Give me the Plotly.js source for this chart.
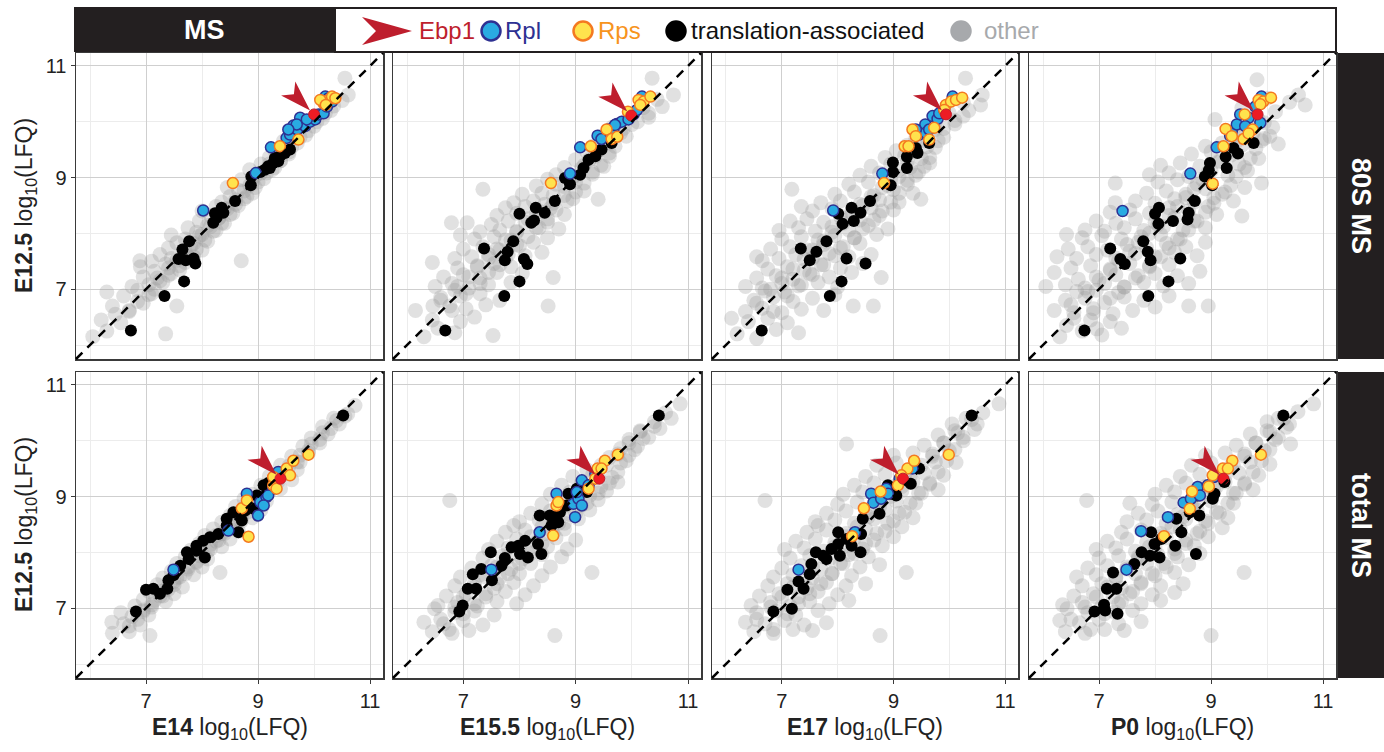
<!DOCTYPE html>
<html><head><meta charset="utf-8">
<script src="https://cdn.plot.ly/plotly-3.0.1.min.js"></script>
<style>html,body{margin:0;padding:0;background:#fff;}#chart{width:1384px;height:752px;}</style>
</head><body><div id="chart"></div>
<script>
// ---------- DATA (log10 LFQ) ----------
const panelTitles = ["E14", "E15.5", "E17", "P0"];
const rowLabels = ["80S MS", "total MS"];
const yTitle = "E12.5";
const tickValues = [7, 9, 11];
const legendLabels = ["Ebp1", "Rpl", "Rps", "translation-associated", "other"];

// "other" proteins per panel (row 1 = 80S MS, row 2 = total MS): outer cloud
const p1OtherX = [6.05,6.30,6.55,6.20,6.45,7.35, 6.40,6.70,6.95,6.60,7.10,6.85,7.55,6.30, 6.75,7.05,7.25,6.95,7.40,7.15,7.60,6.90,7.35,7.70,7.10,8.70,6.89, 7.45,7.85,7.25,7.65,8.00,7.40,7.80,7.55,8.10,7.70,7.95,7.45, 7.90,8.25,7.75,8.10,8.40,7.95,8.30,8.15,8.55,8.00,8.40,8.25, 8.60,8.35,8.75,8.50,8.90,8.65,8.45,8.85,9.00,8.70, 8.95,9.15,8.85,9.30,9.05,9.40,9.20,9.55,9.30, 9.60,9.45,9.75,9.90,9.70,10.05,10.20,10.35,10.50, 10.61,10.55];
const p1OtherY = [6.15,6.25,6.40,6.45,6.55,6.20, 6.70,6.62,6.75,6.88,6.92,6.98,6.70,6.95, 7.05,7.08,7.15,7.22,7.25,7.32,7.35,7.40,7.45,7.48,7.50,7.51,7.51, 7.55,7.58,7.62,7.66,7.70,7.74,7.78,7.83,7.86,7.90,7.95,7.97, 8.02,8.05,8.10,8.14,8.18,8.22,8.27,8.32,8.36,8.40,8.44,8.48, 8.52,8.56,8.62,8.66,8.72,8.77,8.82,8.86,8.92,8.96, 9.03,9.08,9.14,9.18,9.24,9.30,9.36,9.42,9.48, 9.55,9.65,9.72,9.84,9.90,10.00,10.15,10.28,10.38, 10.48,10.78];

const p2OtherX = [6.30,6.55,6.85,7.53,6.45,6.95,7.20, 6.15,6.46,6.76,7.05,7.40,6.60,6.95,7.30,7.65,8.51,6.85, 6.50,6.80,7.10,7.45,7.85,6.65,7.00,7.30,7.60,8.05,6.90,7.25,7.55,7.85,8.60,6.45, 6.85,7.15,7.45,7.75,8.10,8.40,7.00,7.35,7.65,7.95,8.25,7.20,7.55,7.85,8.50,6.95, 7.30,7.65,7.95,8.30,8.70,6.79,7.07,7.50,7.80,8.15,8.50,7.60,7.95,8.35,8.80,7.75,8.10,8.55, 7.90,8.25,8.60,8.95,9.40,8.05,8.40,8.80,9.15,7.35,8.30,8.65,9.00,8.50, 8.65,8.95,9.30,8.80,9.15,9.50,9.00,9.35,9.20,9.60, 9.30,9.60,9.45,9.80,9.65,10.00,9.95,10.30,10.20,10.54,10.45, 10.74,10.36];
const p2OtherY = [6.15,6.30,6.22,6.17,6.45,6.42,6.50, 6.62,6.70,6.70,6.65,6.72,6.85,6.88,6.92,6.80,6.70,6.98, 7.05,7.10,7.02,7.08,7.12,7.22,7.26,7.20,7.30,7.28,7.38,7.42,7.46,7.40,7.21,7.48, 7.55,7.58,7.62,7.55,7.60,7.66,7.72,7.76,7.70,7.80,7.84,7.90,7.94,7.88,7.92,7.97, 8.03,8.06,8.02,8.10,8.08,8.19,8.19,8.16,8.22,8.26,8.20,8.32,8.36,8.40,8.34,8.46,8.48,8.45, 8.55,8.58,8.54,8.62,8.61,8.70,8.72,8.68,8.76,8.79,8.85,8.88,8.92,8.97, 9.05,9.02,9.10,9.18,9.22,9.20,9.32,9.38,9.46,9.44, 9.56,9.62,9.74,9.80,9.90,9.95,10.10,10.08,10.25,10.27,10.40, 10.48,10.78];

const p3OtherX = [6.20,6.55,6.90,7.30,6.40,6.75,7.10,6.10, 6.35,6.65,7.00,7.35,7.75,8.28,8.64,6.50,6.85,7.20,7.55,7.95,6.70,7.05, 6.35,6.65,7.00,7.30,7.65,8.00,8.78,6.55,6.90,7.20,7.50,7.85,8.25,6.75,7.10,7.40,7.70,8.05,8.45,6.65, 6.55,6.95,7.25,7.55,7.85,8.20,8.60,6.80,7.15,7.45,7.75,8.05,8.40,7.00,7.35,7.65,7.95,8.30,8.70, 6.95,7.30,7.60,7.90,8.20,8.55,8.90,7.15,7.45,7.75,8.05,8.40,8.75,7.55,7.90,8.25,8.60,9.00,7.35, 7.70,8.05,8.40,8.75,9.10,9.49,7.95,8.30,8.65,9.00,9.35,7.18,8.20,8.55,8.90,9.25, 8.40,8.75,9.10,9.45,8.60,8.95,9.30,9.65,8.85,9.20,9.50,9.05, 9.25,9.60,9.40,9.80,9.55,9.90,9.75,10.10,10.00,10.35,10.25,10.56, 10.59,10.29];
const p3OtherY = [6.20,6.12,6.28,6.22,6.42,6.48,6.40,6.48, 6.60,6.66,6.58,6.64,6.62,6.70,6.70,6.80,6.86,6.78,6.84,6.90,6.97,6.95, 7.05,7.02,7.10,7.06,7.12,7.04,7.21,7.20,7.24,7.18,7.28,7.22,7.30,7.36,7.40,7.34,7.44,7.38,7.46,7.51, 7.58,7.55,7.62,7.56,7.64,7.58,7.62,7.72,7.76,7.70,7.80,7.74,7.82,7.90,7.94,7.88,7.96,7.92,7.98, 8.05,8.10,8.04,8.12,8.06,8.14,8.08,8.22,8.26,8.20,8.30,8.24,8.32,8.40,8.44,8.38,8.46,8.42,8.48, 8.55,8.58,8.52,8.60,8.56,8.61,8.70,8.74,8.68,8.78,8.72,8.79,8.88,8.92,8.86,8.95, 9.04,9.08,9.02,9.10,9.20,9.24,9.18,9.26,9.36,9.40,9.34,9.48, 9.58,9.55,9.70,9.66,9.84,9.88,10.00,10.02,10.15,10.20,10.35,10.30, 10.48,10.78];

const p4OtherX = [6.30,6.70,7.05,7.40,6.42,6.96,6.55,6.85,7.20, 6.20,6.55,6.90,7.25,7.60,8.00,8.60,8.95,6.40,6.75,7.10,7.45,7.80,8.25,6.60,6.95,7.35, 6.05,6.40,6.75,7.10,7.45,7.80,8.15,8.60,6.20,6.63,6.95,7.30,7.65,8.00,8.40,8.80,6.50,6.85,7.20,7.55,7.90,8.25, 6.25,6.60,6.95,7.30,7.65,8.00,8.35,8.75,6.45,6.80,7.15,7.50,7.85,8.20,8.55,8.90,6.42,6.70,7.05,7.40,7.75,8.10,8.45, 6.75,7.10,7.45,7.80,8.15,8.50,8.90,6.95,7.30,7.65,8.00,8.35,8.70,9.55,9.10,7.20,7.55,7.90,8.25,8.60,8.95, 7.29,7.65,8.00,8.35,8.70,9.05,9.40,7.85,8.20,8.55,8.90,9.25,9.60,7.29,9.90,8.05,8.40,8.75, 7.90,8.25,8.60,8.95,9.30,9.65,8.10,8.45,8.80,9.15,9.50,9.85,8.65,9.00,9.35, 8.90,9.20,9.55,9.90,10.20,9.40,9.75,10.05,9.07,9.60,9.95,9.80,10.15,9.55,10.40,10.00, 10.56,10.68,9.82];
const p4OtherY = [6.15,6.25,6.18,6.30,6.35,6.29,6.48,6.45,6.42, 6.62,6.58,6.65,6.56,6.62,6.68,6.70,6.70,6.80,6.84,6.76,6.86,6.80,6.88,6.96,6.98,6.94, 7.05,7.08,7.02,7.10,7.04,7.12,7.06,7.10,7.30,7.18,7.22,7.26,7.20,7.28,7.24,7.32,7.38,7.42,7.36,7.46,7.40,7.44, 7.58,7.55,7.62,7.56,7.64,7.58,7.66,7.60,7.72,7.76,7.70,7.80,7.74,7.82,7.76,7.84,7.98,7.92,7.96,7.90,7.94,7.98,7.90, 8.06,8.04,8.10,8.05,8.12,8.06,8.10,8.22,8.18,8.26,8.20,8.28,8.22,8.31,8.34,8.38,8.42,8.36,8.46,8.40,8.48, 8.55,8.58,8.54,8.62,8.56,8.64,8.58,8.72,8.76,8.70,8.80,8.74,8.82,8.90,8.90,8.92,8.96,8.88, 9.05,9.08,9.02,9.10,9.04,9.12,9.22,9.26,9.20,9.30,9.24,9.34,9.42,9.46,9.40, 9.56,9.62,9.58,9.66,9.60,9.76,9.80,9.74,10.04,9.92,9.98,10.12,10.18,10.25,10.35,10.42, 10.48,10.30,10.75];

const p5OtherX = [6.40,6.70,6.39,6.60,6.90,7.07,6.75,7.05,6.55,6.95, 6.80,7.10,7.35,6.95,7.25,7.50,7.05,7.40,7.65,7.20,7.50, 7.30,7.60,7.85,8.32,7.45,7.75,8.00,7.55,7.90,8.10,7.70,8.00, 7.80,8.15,8.35,7.95,8.25,8.50,8.05,8.40,8.65,8.20,8.55, 8.35,8.70,8.90,8.50,8.80,9.05,8.60,8.95,9.15,8.75, 8.90,9.20,9.40,9.05,9.35,9.60,9.20,9.50,9.70, 9.40,9.75,9.60,9.90,9.80,10.10,9.95,10.25,10.15,10.45,10.35,10.60, 10.73];
const p5OtherY = [6.55,6.58,6.75,6.72,6.70,6.51,6.85,6.88,6.92,6.97, 7.04,7.06,7.12,7.16,7.22,7.26,7.30,7.34,7.38,7.42,7.48, 7.54,7.56,7.60,7.64,7.66,7.70,7.74,7.80,7.84,7.88,7.92,7.98, 8.04,8.06,8.10,8.16,8.20,8.24,8.30,8.34,8.38,8.42,8.48, 8.54,8.56,8.62,8.66,8.72,8.76,8.82,8.86,8.92,8.96, 9.04,9.08,9.14,9.20,9.26,9.30,9.36,9.42,9.48, 9.56,9.62,9.72,9.78,9.90,9.96,10.05,10.12,10.25,10.30,10.40,10.48, 10.63];

const p6OtherX = [6.45,6.80,7.10,8.63,6.30,6.65,7.00,7.35,6.49,6.85,7.20,7.55, 6.55,6.90,7.25,7.60,7.95,6.70,7.05,7.40,7.75,8.10,6.85,7.20,7.55,7.90,8.25, 6.95,7.30,7.65,8.00,8.40,9.29,7.15,7.50,7.85,8.20,8.55,7.35,7.70,8.05,8.40,8.75, 7.45,7.80,8.15,8.50,8.85,7.60,7.95,8.30,8.65,9.00,7.75,8.10,8.45,8.80,7.90,8.60, 8.00,8.35,8.70,9.05,8.20,8.55,8.90,9.25,6.76,8.40,8.75,9.10,9.40, 8.55,8.90,9.25,9.55,8.75,9.10,9.45,9.75,8.95,9.30,9.65,9.20, 9.45,9.80,9.60,9.95,9.80,10.10,9.95,10.30,10.15,10.50,10.40,10.70, 10.86];
const p6OtherY = [6.58,6.55,6.60,6.51,6.75,6.72,6.78,6.70,6.99,6.92,6.95,6.88, 7.05,7.10,7.04,7.12,7.08,7.22,7.26,7.20,7.30,7.24,7.40,7.44,7.36,7.46,7.40, 7.56,7.60,7.54,7.62,7.58,7.64,7.72,7.76,7.70,7.80,7.74,7.90,7.94,7.88,7.96,7.92, 8.05,8.08,8.02,8.10,8.06,8.20,8.24,8.18,8.26,8.22,8.36,8.40,8.34,8.42,8.48,8.48, 8.55,8.58,8.52,8.60,8.70,8.74,8.68,8.76,8.93,8.86,8.90,8.84,8.94, 9.04,9.08,9.02,9.10,9.20,9.24,9.18,9.26,9.36,9.40,9.34,9.48, 9.56,9.60,9.70,9.74,9.86,9.90,10.02,10.06,10.18,10.22,10.34,10.40, 10.66];

const p7OtherX = [6.50,6.85,7.20,8.76,7.55,6.35,6.70,7.05,7.40,7.80,6.55,6.90,7.25,7.65, 6.45,6.80,7.15,7.50,7.85,8.20,6.60,6.95,7.30,7.65,8.00,6.75,7.10,7.45,7.80,8.15,8.50, 6.85,7.20,7.55,7.90,8.25,9.23,7.00,7.35,7.70,8.05,8.40,8.75,7.15,7.50,7.85,8.20,8.55, 7.05,7.40,7.75,8.10,8.45,8.80,7.25,7.60,7.95,8.30,8.65,9.00,7.45,7.80,8.15,8.50,8.85,7.65,9.15, 7.60,7.95,8.30,8.65,9.00,9.35,7.80,8.15,8.50,8.85,9.20,6.70,8.00,8.35,8.70,9.05,9.40, 8.10,8.45,8.80,9.15,9.50,9.80,8.30,8.65,9.00,9.35,9.65,8.50,8.85,9.20,9.55,9.90, 8.70,9.05,9.40,9.75,10.12,9.00,9.35,9.70,10.00,8.16,9.55,9.90,10.25,9.80,10.15,10.45,10.05,10.40, 10.89,10.60];
const p7OtherY = [6.58,6.55,6.62,6.51,6.60,6.75,6.72,6.78,6.70,6.74,6.92,6.95,6.88,6.96, 7.05,7.10,7.04,7.12,7.08,7.14,7.22,7.26,7.20,7.30,7.24,7.40,7.44,7.36,7.46,7.40,7.44, 7.56,7.60,7.54,7.62,7.58,7.64,7.72,7.76,7.70,7.80,7.74,7.78,7.90,7.94,7.88,7.96,7.92, 8.05,8.08,8.02,8.10,8.06,8.12,8.20,8.24,8.18,8.26,8.22,8.28,8.36,8.40,8.34,8.42,8.38,8.48,8.46, 8.55,8.58,8.52,8.60,8.56,8.62,8.70,8.74,8.68,8.76,8.72,8.93,8.86,8.90,8.84,8.92,8.88, 9.04,9.08,9.02,9.10,9.06,9.12,9.20,9.24,9.18,9.26,9.22,9.36,9.40,9.34,9.42,9.38, 9.56,9.60,9.54,9.62,9.61,9.74,9.78,9.72,9.82,9.94,9.92,9.96,10.00,10.10,10.14,10.20,10.30,10.38, 10.66,10.50];

const p8OtherX = [6.40,6.75,7.10,9.00,7.45,6.30,6.65,7.00,7.35,7.75,6.43,6.80,7.28,7.60, 6.35,6.70,7.05,7.40,7.75,8.10,6.55,6.90,7.25,7.60,7.95,8.35,6.70,7.05,7.40,7.75,8.10,8.50, 6.60,6.95,7.30,7.65,8.00,8.35,9.59,6.80,7.15,7.50,7.85,8.20,8.60,7.00,7.35,7.70,8.05,8.40,8.80, 6.95,7.30,7.65,8.00,8.35,8.70,7.15,7.50,7.85,8.20,8.55,8.95,7.40,7.75,8.10,8.45,8.80,9.20, 7.50,7.85,8.20,8.55,8.90,9.30,7.70,8.05,8.40,8.75,9.10,6.78,7.55,7.95,8.30,8.65,9.00,9.40, 8.00,8.35,8.70,9.05,9.40,9.75,8.20,8.55,8.90,9.25,9.60,8.45,8.80,9.15,9.50,9.85, 8.65,9.00,9.35,9.70,10.05,8.90,9.25,9.60,9.95,10.42,9.45,9.80,10.15,9.70,10.05,10.35,10.00,10.30, 10.83,10.55];
const p8OtherY = [6.58,6.55,6.62,6.51,6.60,6.78,6.74,6.80,6.72,6.76,6.99,6.92,6.93,6.96, 7.06,7.10,7.04,7.12,7.08,7.14,7.22,7.26,7.20,7.30,7.24,7.28,7.40,7.44,7.36,7.46,7.40,7.44, 7.56,7.60,7.54,7.62,7.58,7.64,7.64,7.72,7.76,7.70,7.80,7.74,7.78,7.90,7.94,7.88,7.96,7.92,7.98, 8.05,8.08,8.02,8.10,8.06,8.12,8.20,8.24,8.18,8.26,8.22,8.28,8.36,8.40,8.34,8.42,8.38,8.44, 8.55,8.58,8.52,8.60,8.56,8.62,8.70,8.74,8.68,8.76,8.72,8.93,8.88,8.86,8.90,8.84,8.92,8.88, 9.04,9.08,9.02,9.10,9.06,9.12,9.20,9.24,9.18,9.26,9.22,9.36,9.40,9.34,9.42,9.38, 9.56,9.60,9.54,9.62,9.58,9.74,9.78,9.72,9.82,9.94,9.92,9.96,10.02,10.12,10.16,10.24,10.34,10.40, 10.66,10.52];

// "other" proteins: dense core near the diagonal
const p1CoreX = [6.70,6.85,7.05,7.15,7.30,7.20,7.45,7.40,7.60,7.55,7.75,7.70,7.90,7.85,8.05,8.00,8.20,8.15,8.35,8.30,8.50,8.45,8.65,8.60,8.80,8.75,8.95,8.90,9.10,9.05,9.25,9.20,9.40,9.35,9.55,9.70,9.85,10.00,10.15,10.30];
const p1CoreY = [6.60,6.78,6.90,7.00,7.12,7.20,7.28,7.38,7.42,7.52,7.58,7.68,7.72,7.82,7.88,7.98,8.04,8.12,8.18,8.28,8.34,8.44,8.50,8.60,8.66,8.76,8.82,8.92,8.98,9.08,9.14,9.24,9.30,9.40,9.46,9.62,9.76,9.92,10.06,10.20];
const p2CoreX = [6.80,6.60,7.05,6.90,7.30,7.10,7.45,7.25,7.65,7.45,7.80,7.60,8.00,7.75,8.15,7.95,8.35,8.10,8.50,8.30,8.65,8.45,8.85,8.60,9.00,8.80,9.15,8.95,9.30,9.10,9.45,9.25,9.60,9.40,9.70,9.60,9.90,9.85,10.10,10.30];
const p2CoreY = [6.62,6.80,6.92,7.05,7.10,7.22,7.30,7.40,7.44,7.56,7.62,7.72,7.78,7.88,7.94,8.04,8.10,8.20,8.26,8.36,8.42,8.52,8.58,8.68,8.74,8.84,8.90,9.00,9.06,9.16,9.22,9.32,9.38,9.48,9.56,9.68,9.74,9.88,10.00,10.15];
const p3CoreX = [6.85,6.55,7.10,6.80,7.35,7.00,7.55,7.20,7.75,7.40,7.95,7.55,8.10,7.75,8.30,7.90,8.45,8.10,8.65,8.25,8.80,8.45,8.95,8.60,9.10,8.80,9.25,8.95,9.40,9.10,9.55,9.25,9.65,9.40,9.75,9.55,9.90,9.75,10.10,10.25];
const p3CoreY = [6.60,6.75,6.88,7.00,7.08,7.20,7.26,7.36,7.44,7.54,7.60,7.70,7.76,7.86,7.92,8.02,8.08,8.18,8.24,8.34,8.40,8.50,8.56,8.66,8.72,8.82,8.88,8.98,9.04,9.14,9.20,9.30,9.36,9.46,9.54,9.66,9.72,9.86,9.96,10.10];
const p4CoreX = [6.90,6.50,7.20,6.80,7.45,7.00,7.70,7.20,7.90,7.35,8.10,7.55,8.25,7.70,8.40,7.90,8.60,8.05,8.75,8.25,8.90,8.40,9.05,8.55,9.20,8.70,9.35,8.85,9.45,9.00,9.60,9.15,9.70,9.30,9.80,9.45,9.95,9.60,10.10,9.85];
const p4CoreY = [6.58,6.72,6.84,6.96,7.04,7.16,7.24,7.34,7.42,7.52,7.58,7.68,7.74,7.84,7.90,8.00,8.06,8.16,8.22,8.32,8.38,8.48,8.54,8.64,8.70,8.80,8.86,8.96,9.02,9.12,9.18,9.28,9.34,9.44,9.52,9.64,9.70,9.82,9.90,10.02];
const p5CoreX = [6.70,6.85,6.95,7.10,7.15,7.30,7.35,7.50,7.55,7.70,7.75,7.90,7.95,8.10,8.15,8.30,8.35,8.50,8.55,8.70,8.75,8.90,8.95,9.10,9.15,9.30,9.35,9.50,9.55,9.70,9.75,9.90,9.95,10.10,10.15,10.30,10.40,10.55,7.25,8.25];
const p5CoreY = [6.68,6.80,6.94,7.02,7.14,7.22,7.34,7.42,7.54,7.62,7.74,7.82,7.94,8.02,8.14,8.22,8.34,8.42,8.54,8.62,8.74,8.82,8.94,9.02,9.14,9.22,9.34,9.42,9.54,9.62,9.74,9.82,9.94,10.02,10.14,10.22,10.36,10.44,7.30,8.30];
const p6CoreX = [6.75,6.60,7.00,6.85,7.20,7.00,7.40,7.20,7.60,7.40,7.80,7.60,8.00,7.80,8.20,8.00,8.40,8.20,8.60,8.40,8.80,8.60,9.00,8.80,9.20,9.00,9.40,9.20,9.60,9.40,9.75,9.55,9.90,9.75,10.05,9.95,10.20,10.15,10.40,10.60];
const p6CoreY = [6.62,6.80,6.90,7.02,7.08,7.20,7.26,7.38,7.44,7.56,7.62,7.74,7.80,7.92,7.98,8.10,8.16,8.28,8.34,8.46,8.52,8.64,8.70,8.82,8.88,9.00,9.06,9.18,9.24,9.36,9.44,9.56,9.64,9.76,9.84,9.96,10.04,10.16,10.26,10.50];
const p7CoreX = [6.85,6.55,7.10,6.80,7.30,7.00,7.50,7.20,7.70,7.40,7.90,7.55,8.10,7.75,8.30,7.95,8.50,8.15,8.70,8.35,8.90,8.55,9.10,8.75,9.30,8.95,9.45,9.15,9.65,9.30,9.80,9.50,9.95,9.70,10.10,9.90,10.25,10.10,10.50,10.30];
const p7CoreY = [6.62,6.80,6.90,7.02,7.08,7.20,7.26,7.38,7.44,7.56,7.62,7.74,7.80,7.92,7.98,8.10,8.16,8.28,8.34,8.46,8.52,8.64,8.70,8.82,8.88,9.00,9.06,9.18,9.24,9.36,9.44,9.56,9.64,9.76,9.84,9.96,10.06,10.18,10.30,10.40];
const p8CoreX = [6.85,6.50,7.10,6.75,7.35,6.95,7.55,7.15,7.75,7.30,7.95,7.50,8.15,7.70,8.35,7.90,8.55,8.10,8.75,8.30,8.95,8.50,9.15,8.70,9.30,8.90,9.45,9.10,9.60,9.25,9.75,9.40,9.90,9.60,10.05,9.80,10.20,10.00,10.40,10.20];
const p8CoreY = [6.62,6.80,6.90,7.02,7.08,7.20,7.26,7.38,7.44,7.56,7.62,7.74,7.80,7.92,7.98,8.10,8.16,8.28,8.34,8.46,8.52,8.64,8.70,8.82,8.88,9.00,9.06,9.18,9.24,9.36,9.44,9.56,9.64,9.76,9.84,9.96,10.06,10.18,10.30,10.40];

// translation-associated (black), Rpl (blue), Rps (yellow) per panel
const p1TransX = [6.73,7.33,7.68,7.88,7.85,7.71,7.58,7.65,7.77,8.20,8.26,8.23,8.38,8.35,8.59,8.87,8.88,9.04,9.12,9.21,9.27,9.30,9.39,9.48,9.57,9.36,9.18];
const p1TransY = [6.26,6.88,7.14,7.46,7.55,7.52,7.54,7.71,7.86,8.19,8.28,8.36,8.37,8.46,8.58,8.86,9.02,9.10,9.14,9.17,9.26,9.35,9.38,9.44,9.50,9.29,9.20];
const p1RplX = [8.02,9.23,8.96,9.51,9.57,9.63,9.70,9.78,9.84,9.93,10.02,10.08,10.17,10.23,10.20,10.26,10.32,9.75,9.69,9.54,9.87];
const p1RplY = [8.41,9.54,9.08,9.71,9.77,9.93,9.86,9.96,9.92,10.00,10.04,10.13,10.15,10.27,10.45,10.42,10.36,10.07,9.95,9.86,10.04];
const p1RpsX = [8.55,9.39,9.72,10.17,10.26,10.32,10.38,10.11,10.21];
const p1RpsY = [8.90,9.56,9.68,10.33,10.39,10.45,10.42,10.39,10.30];

const p2TransX = [6.68,7.73,8.00,8.14,8.08,7.74,7.79,7.37,7.89,8.21,8.26,8.00,8.29,8.45,8.63,8.90,8.81,9.08,9.14,9.23,9.35,9.46,9.64];
const p2TransY = [6.26,6.88,7.14,7.45,7.54,7.52,7.67,7.73,7.86,8.19,8.23,8.35,8.46,8.37,8.58,8.88,8.99,9.05,9.17,9.32,9.38,9.50,9.62];
const p2RplX = [9.08,8.90,9.39,9.46,9.58,9.67,9.73,9.82,9.94,10.03,10.09,10.18,9.70];
const p2RplY = [9.54,9.07,9.75,9.69,9.86,9.83,9.96,10.00,10.04,10.13,10.21,10.45,9.94];
const p2RpsX = [8.56,9.27,9.55,9.64,9.74,10.12,10.21,10.33,10.15,9.93];
const p2RpsY = [8.90,9.56,9.86,9.69,9.73,10.39,10.36,10.45,10.30,10.18];

const p3TransX = [6.64,7.86,8.07,8.50,8.16,7.50,7.62,7.34,7.80,8.09,8.29,8.01,8.25,8.41,8.58,8.95,8.99,8.99,9.24,9.24,9.43,9.40,9.64];
const p3TransY = [6.26,6.88,7.14,7.46,7.55,7.52,7.67,7.73,7.86,8.17,8.22,8.35,8.46,8.37,8.58,8.86,9.10,9.27,9.17,9.37,9.44,9.53,9.62];
const p3RplX = [7.92,8.80,9.46,9.57,9.70,9.79,9.58,9.64,10.06,9.40,9.82,9.91];
const p3RplY = [8.41,9.07,9.77,9.95,10.10,10.05,9.80,9.86,10.45,9.86,10.15,10.21];
const p3RpsX = [8.83,9.20,9.27,9.34,9.64,9.73,9.94,10.03,10.12,10.23,9.91,9.40];
const p3RpsY = [8.90,9.56,9.56,9.86,9.68,9.89,10.30,10.36,10.39,10.43,10.21,9.74];

const p4TransX = [6.74,7.88,8.24,8.45,7.92,7.46,7.38,7.20,7.79,7.87,8.06,8.32,8.00,8.07,8.58,8.60,8.71,9.02,8.89,8.96,8.98,9.28,9.26,9.48,9.40,9.76];
const p4TransY = [6.26,6.88,7.14,7.55,7.52,7.45,7.54,7.73,7.86,7.67,8.17,8.22,8.35,8.46,8.25,8.37,8.58,8.86,9.02,9.13,9.26,9.17,9.37,9.43,9.53,9.62];
const p4RplX = [7.42,8.63,9.10,9.34,9.37,9.46,9.52,9.67,9.88,9.90,9.61,9.79];
const p4RplY = [8.40,9.07,9.54,9.75,9.83,9.95,10.13,10.07,9.98,10.45,9.92,10.27];
const p4RpsX = [9.03,9.22,9.26,9.58,9.74,9.60,9.85,9.93,10.07,9.88,9.37,9.67];
const p4RpsY = [8.89,9.56,9.87,9.69,9.86,10.13,10.39,10.36,10.43,10.31,9.74,9.79];

const p5TransX = [6.82,7.00,7.13,7.25,7.38,7.40,7.49,7.61,7.76,7.73,7.90,8.05,8.02,8.14,8.29,8.44,8.56,8.65,8.71,8.92,8.98,9.10,9.18,10.52,7.90,8.44,8.77];
const p5TransY = [6.94,7.33,7.35,7.26,7.35,7.50,7.59,7.76,7.88,8.00,8.03,7.91,8.21,8.27,8.33,8.60,8.72,8.36,8.57,8.78,9.02,9.20,9.24,10.45,8.12,8.48,8.75];
const p5RplX = [7.49,8.47,8.80,9.00,9.04,9.15,9.27,9.36,9.10,9.18];
const p5RplY = [7.69,8.39,9.05,8.66,8.90,8.99,9.14,9.44,8.84,9.02];
const p5RpsX = [8.83,8.71,8.80,9.27,9.33,9.51,9.63,9.57,9.90,9.27];
const p5RpsY = [8.28,8.79,8.93,9.20,9.14,9.50,9.64,9.38,9.75,9.35];

const p6TransX = [6.93,6.99,7.08,7.23,7.17,7.32,7.51,7.49,7.68,7.74,7.86,7.98,8.01,8.15,8.10,8.33,8.39,8.36,8.54,8.69,8.72,8.84,8.87,9.02,9.11,9.20,10.48,8.57];
const p6TransY = [6.94,7.05,7.35,7.35,7.61,7.70,7.50,8.00,7.76,7.90,8.09,8.12,7.97,7.91,8.21,8.15,7.97,8.66,8.66,8.54,8.72,8.84,9.05,9.14,9.20,9.08,10.45,8.48];
const p6RplX = [7.50,8.36,8.66,8.99,8.96,9.05,9.11,9.23,9.35,9.02,9.11];
const p6RplY = [7.69,8.36,9.05,8.63,8.87,8.96,9.29,9.20,9.41,9.08,8.84];
const p6RpsX = [8.60,8.66,8.69,9.23,9.39,9.52,9.75,9.46,9.35];
const p6RpsY = [8.30,8.84,8.90,9.14,9.50,9.64,9.75,9.50,9.32];

const p7TransX = [6.85,7.18,7.10,7.30,7.39,7.50,7.53,7.61,7.80,7.89,8.01,8.01,8.04,8.16,8.25,8.41,8.42,8.45,8.75,8.96,9.05,8.90,9.31,9.46,10.40,7.74];
const p7TransY = [6.94,6.99,7.33,7.48,7.35,7.61,7.79,8.00,7.88,8.06,8.15,8.36,7.94,8.24,8.12,8.00,8.33,8.60,8.69,9.05,9.02,9.20,9.23,9.50,10.45,7.94];
const p7RplX = [7.30,8.31,8.60,8.64,8.78,8.87,9.11,9.34,8.90];
const p7RplY = [7.69,8.36,9.05,8.89,8.96,9.14,9.32,9.50,9.05];
const p7RpsX = [8.26,8.47,8.77,9.08,9.25,9.37,9.99,9.14];
const p7RpsY = [8.29,8.79,9.09,9.20,9.50,9.64,9.75,9.38];

const p8TransX = [6.92,7.11,7.33,7.09,7.14,7.31,7.25,7.63,7.76,7.91,8.08,7.99,8.11,8.36,8.47,8.73,8.38,8.62,8.79,8.76,9.03,9.06,9.24,10.29,7.93];
const p8TransY = [6.94,6.96,6.90,7.06,7.35,7.35,7.64,7.79,8.00,7.94,7.91,8.15,8.24,8.12,8.36,7.97,8.60,8.72,8.66,9.02,8.96,9.05,9.26,10.45,8.36];
const p8RplX = [7.75,7.49,8.23,8.51,8.64,8.76,8.94,9.05,8.80];
const p8RplY = [8.38,7.69,8.63,8.89,8.96,9.17,9.20,9.35,9.02];
const p8RpsX = [8.16,8.62,8.66,8.96,9.21,9.38,9.89,9.30,9.03];
const p8RpsY = [8.29,8.78,9.09,9.18,9.50,9.64,9.75,9.50,9.38];

// Ebp1, one point per panel (row 1 then row 2)
const ebp1X = [10.00, 9.99, 9.94, 9.83, 9.40, 9.42, 9.17, 9.22];
const ebp1Y = [10.13, 10.11, 10.13, 10.13, 9.32, 9.32, 9.32, 9.32];

// ---------- BUILD ----------
const panels = [
  {oX:p1OtherX, oY:p1OtherY, cX:p1CoreX, cY:p1CoreY, tX:p1TransX, tY:p1TransY, lX:p1RplX, lY:p1RplY, sX:p1RpsX, sY:p1RpsY},
  {oX:p2OtherX, oY:p2OtherY, cX:p2CoreX, cY:p2CoreY, tX:p2TransX, tY:p2TransY, lX:p2RplX, lY:p2RplY, sX:p2RpsX, sY:p2RpsY},
  {oX:p3OtherX, oY:p3OtherY, cX:p3CoreX, cY:p3CoreY, tX:p3TransX, tY:p3TransY, lX:p3RplX, lY:p3RplY, sX:p3RpsX, sY:p3RpsY},
  {oX:p4OtherX, oY:p4OtherY, cX:p4CoreX, cY:p4CoreY, tX:p4TransX, tY:p4TransY, lX:p4RplX, lY:p4RplY, sX:p4RpsX, sY:p4RpsY},
  {oX:p5OtherX, oY:p5OtherY, cX:p5CoreX, cY:p5CoreY, tX:p5TransX, tY:p5TransY, lX:p5RplX, lY:p5RplY, sX:p5RpsX, sY:p5RpsY},
  {oX:p6OtherX, oY:p6OtherY, cX:p6CoreX, cY:p6CoreY, tX:p6TransX, tY:p6TransY, lX:p6RplX, lY:p6RplY, sX:p6RpsX, sY:p6RpsY},
  {oX:p7OtherX, oY:p7OtherY, cX:p7CoreX, cY:p7CoreY, tX:p7TransX, tY:p7TransY, lX:p7RplX, lY:p7RplY, sX:p7RpsX, sY:p7RpsY},
  {oX:p8OtherX, oY:p8OtherY, cX:p8CoreX, cY:p8CoreY, tX:p8TransX, tY:p8TransY, lX:p8RplX, lY:p8RplY, sX:p8RpsX, sY:p8RpsY}
];

const W = 1384, H = 752;
const colPx = [[76,383],[393,701],[712,1018],[1029,1336]];
const rowPx = [[53,359],[372,678]];
const RANGE = [5.75, 11.23];
const FONT = 'Liberation Sans, Arial, Helvetica, sans-serif';
const DARK = '#231f20';
const C_EBP = '#be1e2d', C_RPL = '#2e3192', C_RPS = '#f7941d';

const px = v => v / W;
const py = v => 1 - v / H;

const traces = [], shapes = [], annotations = [];
const layout = {
  width: W, height: H, margin: {l:0, r:0, t:0, b:0},
  paper_bgcolor: '#fff', plot_bgcolor: '#fff', showlegend: false,
  font: {family: FONT, color: '#222'}
};

const greyMarker = {size: 15, color: 'rgb(150,150,150)', opacity: 0.29};

panels.forEach((p, i) => {
  const r = Math.floor(i / 4), c = i % 4;
  const xn = i === 0 ? 'x' : 'x' + (i + 1);
  const yn = i === 0 ? 'y' : 'y' + (i + 1);
  const base = {
    range: RANGE, tickvals: tickValues, showgrid: true, gridcolor: '#cfcfcf', gridwidth: 1,
    minor: {tickvals: [6, 8, 10], showgrid: true, gridcolor: '#ececec', gridwidth: 1},
    showline: true, mirror: true, linecolor: '#3a3a3a', linewidth: 1.5, zeroline: false,
    tickfont: {family: FONT, size: 20, color: '#222'}, tickcolor: '#3a3a3a', tickwidth: 1
  };
  layout[i === 0 ? 'xaxis' : 'xaxis' + (i + 1)] = Object.assign({}, base, {
    domain: [px(colPx[c][0]), px(colPx[c][1])], anchor: yn,
    showticklabels: r === 1, ticks: r === 1 ? 'outside' : '', ticklen: 4
  });
  layout[i === 0 ? 'yaxis' : 'yaxis' + (i + 1)] = Object.assign({}, base, {
    domain: [py(rowPx[r][1]), py(rowPx[r][0])], anchor: xn,
    showticklabels: c === 0, ticks: c === 0 ? 'outside' : '', ticklen: 4
  });

  traces.push({x: p.oX, y: p.oY, xaxis: xn, yaxis: yn, type: 'scatter', mode: 'markers',
    marker: greyMarker, hoverinfo: 'skip'});
  traces.push({x: p.cX, y: p.cY, xaxis: xn, yaxis: yn, type: 'scatter', mode: 'markers',
    marker: greyMarker, hoverinfo: 'skip'});
  traces.push({x: p.tX, y: p.tY, xaxis: xn, yaxis: yn, type: 'scatter', mode: 'markers',
    marker: {size: 12, color: '#000'}, hoverinfo: 'skip'});
  traces.push({x: p.lX, y: p.lY, xaxis: xn, yaxis: yn, type: 'scatter', mode: 'markers',
    marker: {size: 11, color: '#29abe2', line: {color: C_RPL, width: 1.5}}, hoverinfo: 'skip'});
  traces.push({x: p.sX, y: p.sY, xaxis: xn, yaxis: yn, type: 'scatter', mode: 'markers',
    marker: {size: 11, color: '#ffe34d', line: {color: '#f47920', width: 1.5}}, hoverinfo: 'skip'});
  traces.push({x: [ebp1X[i]], y: [ebp1Y[i]], xaxis: xn, yaxis: yn, type: 'scatter', mode: 'markers',
    marker: {size: 11, color: '#ed1c24', line: {color: C_EBP, width: 1}}, hoverinfo: 'skip'});

  shapes.push({type: 'line', xref: xn + ' domain', yref: yn + ' domain', x0: 0, y0: 0, x1: 1, y1: 1,
    line: {color: '#000', width: 2.5, dash: '9px,7px'}, layer: 'above'});
  shapes.push({type: 'path', xref: xn, yref: yn, xsizemode: 'pixel', ysizemode: 'pixel',
    xanchor: ebp1X[i], yanchor: ebp1Y[i],
    path: 'M-4,4 L-18.8,33 L-20.2,20.2 L-33,18.8 Z',
    fillcolor: C_EBP, line: {width: 0}, layer: 'above'});

  if (r === 1) {
    annotations.push({xref: 'paper', yref: 'paper', x: px((colPx[c][0] + colPx[c][1]) / 2), y: py(728),
      xanchor: 'center', yanchor: 'middle', showarrow: false,
      text: '<b>' + panelTitles[c] + '</b> log<sub>10</sub>(LFQ)', font: {family: FONT, size: 23, color: '#222'}});
  }
  if (c === 0) {
    annotations.push({xref: 'paper', yref: 'paper', x: px(25), y: py((rowPx[r][0] + rowPx[r][1]) / 2),
      xanchor: 'center', yanchor: 'middle', showarrow: false, textangle: -90,
      text: '<b>' + yTitle + '</b> log<sub>10</sub>(LFQ)', font: {family: FONT, size: 23, color: '#222'}});
  }
});

// header "MS" box and legend box
shapes.push({type: 'rect', xref: 'paper', yref: 'paper', x0: px(74), x1: px(336), y0: py(52), y1: py(7),
  fillcolor: DARK, line: {width: 0}, layer: 'above'});
shapes.push({type: 'rect', xref: 'paper', yref: 'paper', x0: px(335), x1: px(1336), y0: py(52), y1: py(8),
  fillcolor: '#fff', line: {color: DARK, width: 2}, layer: 'above'});
annotations.push({xref: 'paper', yref: 'paper', x: px(205), y: py(30), xanchor: 'center', yanchor: 'middle',
  showarrow: false, text: '<b>MS</b>', font: {family: FONT, size: 27, color: '#fff'}});

// right strips
rowPx.forEach((rp, r) => {
  shapes.push({type: 'rect', xref: 'paper', yref: 'paper', x0: px(1338), x1: 1, y0: py(rp[1]), y1: py(rp[0]),
    fillcolor: DARK, line: {width: 0}, layer: 'above'});
  annotations.push({xref: 'paper', yref: 'paper', x: px(1361), y: py((rp[0] + rp[1]) / 2),
    xanchor: 'center', yanchor: 'middle', showarrow: false, textangle: 90,
    text: '<b>' + rowLabels[r] + '</b>', font: {family: FONT, size: 27, color: '#fff'}});
});

// legend items
const LY = py(31);
shapes.push({type: 'path', xref: 'paper', yref: 'paper', xsizemode: 'pixel', ysizemode: 'pixel',
  xanchor: px(412), yanchor: LY, path: 'M0,0 L-50,14 L-36,0 L-50,-14 Z',
  fillcolor: C_EBP, line: {width: 0}, layer: 'above'});
const legendDots = [
  {x: 491, fill: '#29abe2', line: C_RPL},
  {x: 583, fill: '#ffe34d', line: '#f47920'},
  {x: 676, fill: '#000', line: '#000'},
  {x: 961, fill: '#a7a9ac', line: '#a7a9ac'}
];
legendDots.forEach(d => {
  shapes.push({type: 'circle', xref: 'paper', yref: 'paper', xsizemode: 'pixel', ysizemode: 'pixel',
    xanchor: px(d.x), yanchor: LY, x0: -9.5, x1: 9.5, y0: -9.5, y1: 9.5,
    fillcolor: d.fill, line: {color: d.line, width: 2.5}, layer: 'above'});
});
const legendText = [
  {x: 417, color: C_EBP}, {x: 503, color: C_RPL}, {x: 596, color: C_RPS},
  {x: 689, color: '#111'}, {x: 982, color: '#a7a9ac'}
];
legendText.forEach((t, k) => {
  annotations.push({xref: 'paper', yref: 'paper', x: px(t.x), y: LY, xanchor: 'left', yanchor: 'middle',
    showarrow: false, text: legendLabels[k], font: {family: FONT, size: 24, color: t.color}});
});

layout.shapes = shapes;
layout.annotations = annotations;

Plotly.newPlot('chart', traces, layout, {displayModeBar: false, staticPlot: true});
</script></body></html>
